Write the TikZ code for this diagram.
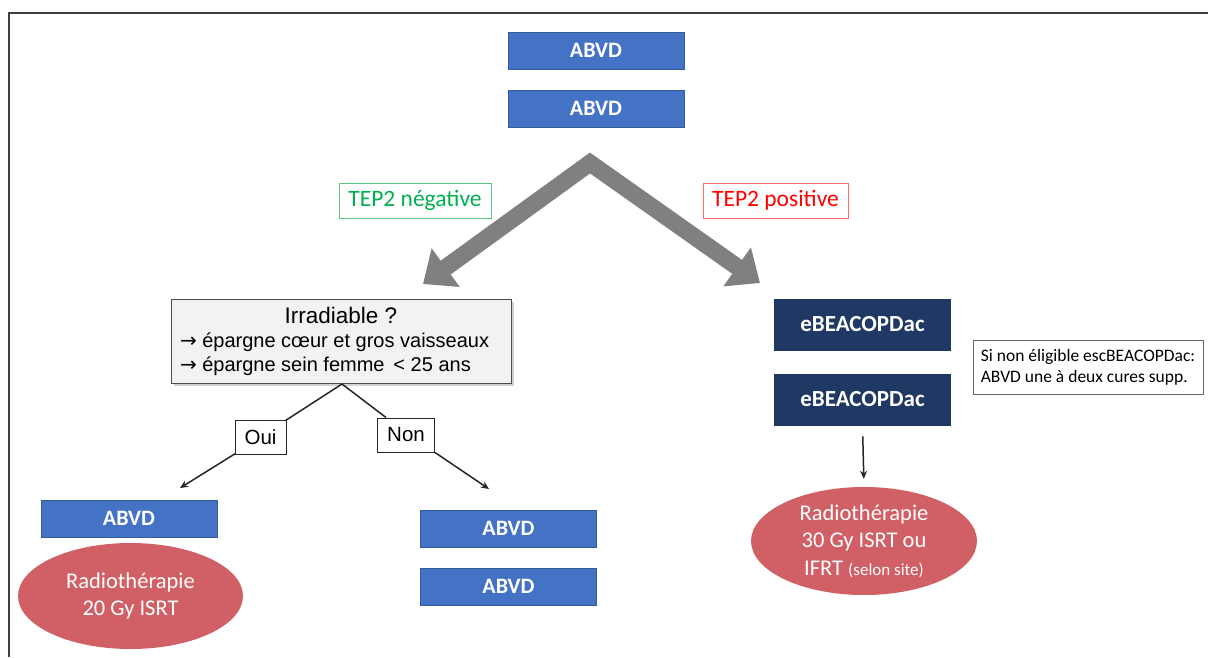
\documentclass[tikz,border=0pt]{standalone}
\usepackage{fontspec}
\setmainfont{Carlito}
\newfontfamily\arialfont{Liberation Sans}
\newfontfamily\symfont{DejaVu Sans}
\usetikzlibrary{arrows.meta,shapes.geometric,shadows}
\definecolor{abvdblue}{RGB}{68,114,196}
\definecolor{navy}{RGB}{31,56,100}
\definecolor{rtred}{RGB}{208,96,102}
\definecolor{posgreen}{RGB}{0,176,80}
\definecolor{greenline}{RGB}{90,200,130}
\definecolor{redline}{RGB}{255,110,110}
\definecolor{boxgray}{RGB}{242,242,242}
\definecolor{chevgray}{RGB}{128,128,128}
\newcommand{\bullarrow}{{\symfont\fontsize{20}{22}\selectfont →}}
\tikzset{
  cure/.style={rectangle, fill=abvdblue, draw=abvdblue!80!black, line width=0.6pt,
    minimum width=176pt, minimum height=37pt, inner sep=0pt,
    text=white, font=\fontsize{22}{26}\selectfont\bfseries},
  escal/.style={cure, fill=navy, draw=navy, minimum height=51pt,
    font=\fontsize{23}{26}\selectfont\bfseries},
  rt/.style={ellipse, fill=rtred, draw=none, inner sep=0pt, align=center,
    text=white, font=\fontsize{22.5}{27.5}\selectfont},
  teplabel/.style={rectangle, draw, line width=0.9pt, fill=white, inner sep=0pt,
    minimum height=35pt, font=\fontsize{23.5}{26}\selectfont},
  yesno/.style={rectangle, draw=black!85, line width=0.9pt, fill=white, inner sep=0pt,
    minimum height=34pt, font=\arialfont\fontsize{20.5}{24}\selectfont},
  treeline/.style={draw=black!85, line width=1.5pt},
  treearrow/.style={treeline, -{Stealth[length=8pt,width=7pt]}},
  chevron/.style={draw=chevgray, line width=17pt, line join=miter,
    {Triangle[length=28pt,width=46pt]}-{Triangle[length=28pt,width=46pt]}}
}
\begin{document}
\begin{tikzpicture}[x=1pt,y=-1pt]
\useasboundingbox (0,0) rectangle (1208,657);
% outer frame (top and left edges)
\draw[draw=black!75, line width=1.6pt] (9,657) -- (9,13) -- (1208,13);

% first two cures
\node[cure] (a1) at (596,50.5) {ABVD};
\node[cure] (a2) at (596,108.5) {ABVD};

% split after the interim PET
\coordinate (apex) at (590,163);
\coordinate (tipL) at (423,284);
\coordinate (tipR) at (760,283);
\draw[chevron] (tipL) -- (apex) -- (tipR);

\node[teplabel, draw=greenline, text=posgreen, minimum width=152pt] (neg) at (415,200.5) {TEP2 négative};
\node[teplabel, draw=redline, text=red, minimum width=145pt] (pos) at (775.5,200.5) {TEP2 positive};

% negative branch
\node[rectangle, draw=black!70, line width=1pt, fill=boxgray, minimum width=340pt,
  minimum height=84pt, inner sep=0pt, align=left,
  drop shadow={shadow xshift=3pt, shadow yshift=-3pt, fill=black!35},
  font=\arialfont\fontsize{20}{24}\selectfont] (irr) at (341,341)
  {\makebox[322pt][c]{\fontsize{22.5}{24}\selectfont Irradiable ?}\\
   \bullarrow\ épargne cœur et gros vaisseaux\\
   \bullarrow\ épargne sein femme \,< 25 ans};

\coordinate (fork) at (342,384);
\node[yesno, minimum width=51pt] (oui) at (260.5,437) {Oui};
\node[yesno, minimum width=57pt] (non) at (406,435) {Non};
\coordinate (endL) at (180,488);
\coordinate (endR) at (489,489);
\draw[treeline] (fork) -- ([xshift=-1pt,yshift=-1pt]oui.north east);
\draw[treearrow] ([xshift=1pt,yshift=1pt]oui.south west) -- (endL);
\draw[treeline] (fork) -- ([xshift=9pt]non.north west);
\draw[treearrow] (non.south east) -- (endR);

\node[cure] (b1) at (129,518.5) {ABVD};
\node[rt, minimum width=225pt, minimum height=106pt] (rt1) at (130.5,596)
  {Radiothérapie\\20 Gy ISRT};

\node[cure] (c1) at (508.5,528.5) {ABVD};
\node[cure] (c2) at (508.5,586.5) {ABVD};

% positive branch
\node[escal] (e1) at (862.5,324.5) {eBEACOPDac};
\node[escal] (e2) at (862.5,399.5) {eBEACOPDac};
\node[rectangle, draw=black!60, line width=0.8pt, fill=white, minimum width=230pt,
  minimum height=54pt, inner sep=0pt, align=left,
  font=\fontsize{17.5}{21}\selectfont] (note) at (1088,367)
  {Si non éligible escBEACOPDac:\\ABVD une à deux cures supp.};

\node[rt, minimum width=226pt, minimum height=108pt] (rt2) at (864,541)
  {Radiothérapie\\30 Gy ISRT ou\\IFRT {\fontsize{17}{20}\selectfont(selon site)}};
\draw[treearrow, shorten <=11pt, shorten >=8pt] (e2.south) -- (rt2.north);
\end{tikzpicture}
\end{document}
